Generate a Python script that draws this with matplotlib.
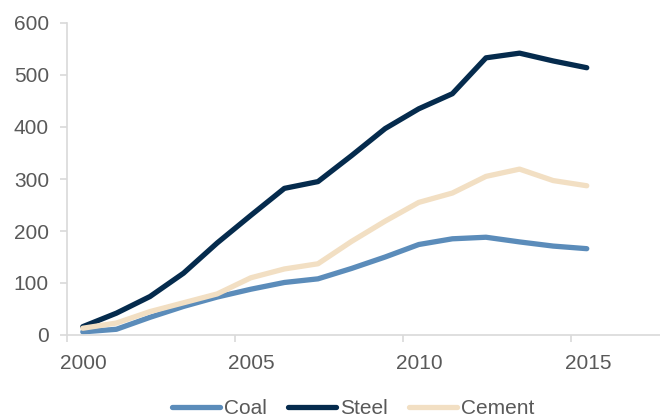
import matplotlib
matplotlib.use("Agg")
import matplotlib.pyplot as plt
import numpy as np

# --- Data ---
years = np.arange(2000, 2016)
coal = [6, 11, 34, 55, 73, 88, 101, 108, 128, 150, 174, 185, 188, 179, 171, 166]
steel = [16, 42, 74, 119, 177, 230, 282, 295, 345, 397, 435, 464, 533, 542, 527, 514]
cement = [13, 23, 45, 62, 79, 110, 127, 137, 180, 219, 255, 273, 305, 319, 297, 287]

series = [
    ("Coal", coal, "#5b8cba"),
    ("Steel", steel, "#052b4d"),
    ("Cement", cement, "#f2dfc3"),
]
xticks = [2000, 2005, 2010, 2015]
xticklabels = ["2000", "2005", "2010", "2015"]
yticks = [0, 100, 200, 300, 400, 500, 600]

plt.rcParams["font.family"] = ["Liberation Sans", "DejaVu Sans"]

fig = plt.figure(figsize=(6.6, 4.2), dpi=100)
ax = fig.add_axes([67 / 660, 1 - 335 / 420, (660 - 67) / 660, (335 - 23) / 420])

# points sit mid-year on the date axis
for name, vals, color in series:
    ax.plot(years + 0.47, vals, color=color, lw=3.8, label=name,
            solid_capstyle="round", solid_joinstyle="round")

ax.set_xlim(2000, 2017.65)
ax.set_ylim(0, 600)
ax.set_yticks(yticks)

# tick marks at the year boundary, labels centred on the year
ax.set_xticks(xticks)
ax.set_xticklabels([])
ax.set_xticks([t + 0.5 for t in xticks], minor=True)
ax.set_xticklabels(xticklabels, minor=True)

for side in ["top", "right"]:
    ax.spines[side].set_visible(False)
for side in ["left", "bottom"]:
    ax.spines[side].set_color("#d9d9d9")
    ax.spines[side].set_linewidth(1.2)

ax.tick_params(axis="both", which="major", colors="#d9d9d9", labelcolor="#595959",
               labelsize=15, length=5, width=1.2, pad=8)
ax.tick_params(axis="x", which="minor", length=0, labelcolor="#595959",
               labelsize=15, pad=14)

fig.legend(loc="center", bbox_to_anchor=(0.535, 11 / 420),
           ncol=3, frameon=False, fontsize=15, handlelength=2.3,
           handletextpad=0.2, columnspacing=1.0, labelcolor="#595959")

fig.savefig("out.png", dpi=100)
